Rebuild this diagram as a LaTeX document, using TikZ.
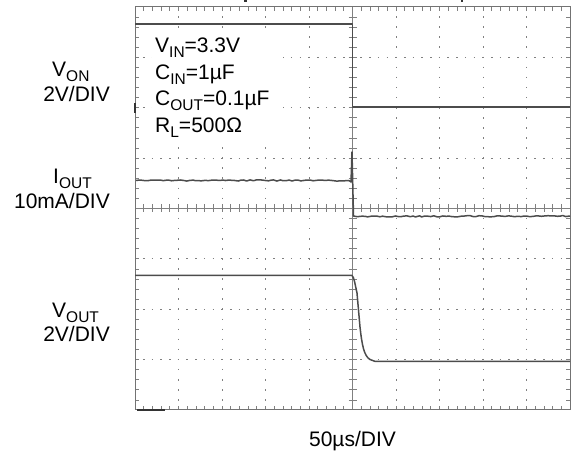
\documentclass[tikz,border=0pt]{standalone}
\usepackage{fontspec}
\setmainfont{Liberation Sans}
\usetikzlibrary{decorations.pathmorphing}
\newcommand{\lowtxt}[1]{\raisebox{-0.22em}{\fontsize{15.5}{16}\selectfont #1}}

\begin{document}
\begin{tikzpicture}
  [x=1pt,y=-1pt,every node/.style={inner sep=0pt,font=\fontsize{21}{24}\selectfont},
   trace/.style={draw=black!70,line width=1.5pt,line join=round},
   noisy/.style={decorate,decoration={random steps,segment length=3pt,amplitude=0.6pt}},
   frame/.style={draw=black!55,line width=1pt},
   tick/.style={draw=black!50,line width=0.8pt},
   griddot/.style={draw=black!50,line width=1pt},
   marker/.style={draw=black!80,line width=2.5pt}]

  \useasboundingbox (0,0) rectangle (579,454);

  \foreach \i in {1,2,3,4,6,7,8,9}
    \draw[griddot,dash pattern=on 1.6pt off 8.475pt,dash phase=0.8pt] ({135+\i*43.5},7) -- ({135+\i*43.5},410);
  \foreach \j in {1,2,3,5,6,7}
    \draw[griddot,dash pattern=on 1.6pt off 7.1pt,dash phase=0.8pt] (135,{7+\j*50.375}) -- (570,{7+\j*50.375});

  \foreach \k in {1,...,49} {
    \draw[tick] ({135+\k*8.7},7) -- ++(0,4);
    \draw[tick] ({135+\k*8.7},410) -- ++(0,-4);
    \draw[tick] ({135+\k*8.7},204.5) -- ++(0,8);
  }
  \foreach \k in {1,...,39} {
    \draw[tick] (135,{7+\k*10.075}) -- ++(4,0);
    \draw[tick] (570,{7+\k*10.075}) -- ++(-4,0);
    \draw[tick] (348.5,{7+\k*10.075}) -- ++(8,0);
  }
  \draw[tick] (135,208.5) -- (570,208.5);
  \draw[tick] (352.5,7) -- (352.5,410);
  \draw[frame] (135,7) rectangle (570,410);

  \draw[marker] (135,103) -- (135,113);
  \draw[marker] (137,410) -- (165,410);
  \draw[marker,line width=1.5pt] (244,1) -- (247,1);
  \draw[marker,line width=1.5pt] (461,1) -- (463,1);

  \fill[white] (152,34) rectangle (283,143);

  \draw[trace] (135,24) -- (352.5,24) -- (352.5,107) -- (570,107);
  \draw[trace,noisy] (136,180.5) -- (349,180.5);
  \draw[trace] (349,180.5) -- (351,182) -- (352,152) -- (353.5,216) -- (356,216.5);
  \draw[trace,noisy] (356,216.5) -- (570,216);
  \draw[trace] (135,275.5) -- (352,275.5) .. controls (354,277) and (355,284) .. (357,293)
    -- (360,327) .. controls (362,345) and (364,356) .. (370,359.5)
    .. controls (373,361.5) and (376,361.5) .. (380,361.5) -- (570,361.5);

  \node[anchor=base west] (vin) at (155,53) {V\lowtxt{IN}=3.3V};
  \node[anchor=base west] (cin) at (155,79.5) {C\lowtxt{IN}=1µF};
  \node[anchor=base west] (cout) at (155,106) {C\lowtxt{OUT}=0.1µF};
  \node[anchor=base west] (rl) at (155,132.5) {R\lowtxt{L}=500Ω};

  \node[anchor=base west] (von) at (52,77) {V\lowtxt{ON}};
  \node[anchor=base east] (vondiv) at (110,102) {2V/DIV};
  \node[anchor=base west] (iout) at (53,184) {I\lowtxt{OUT}};
  \node[anchor=base east] (ioutdiv) at (110,209) {10mA/DIV};
  \node[anchor=base west] (vout) at (52,318) {V\lowtxt{OUT}};
  \node[anchor=base east] (voutdiv) at (110,342) {2V/DIV};
  \node[anchor=base] (tdiv) at (352.5,447) {50µs/DIV};

\end{tikzpicture}
\end{document}
